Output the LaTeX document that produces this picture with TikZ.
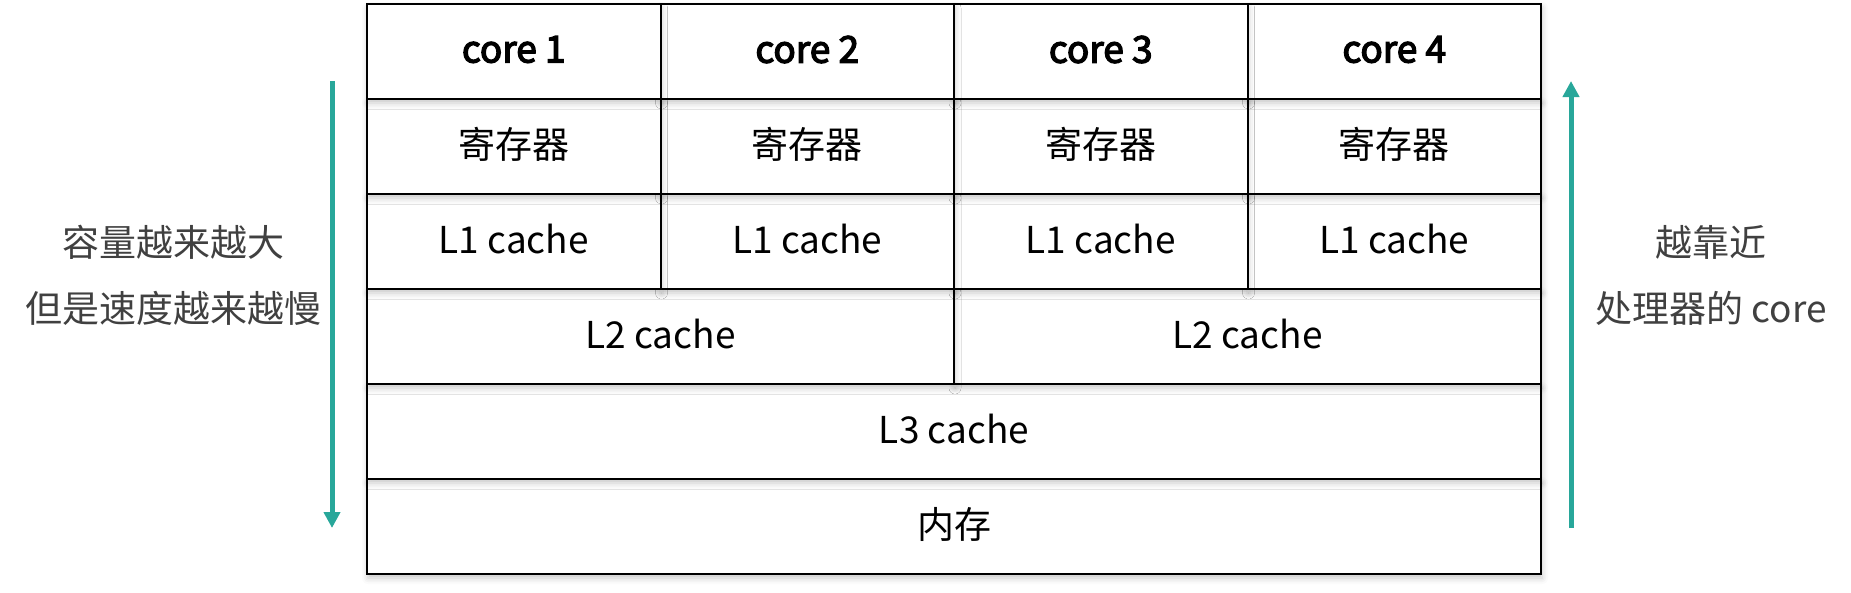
\documentclass[tikz,border=0pt]{standalone}
\usepackage{fontspec}
\setmainfont{Noto Sans CJK SC}
\newfontfamily\corefont[FakeBold=3.5]{Noto Sans CJK SC}
\usetikzlibrary{arrows.meta,shadows.blur}
\definecolor{teal1}{RGB}{40,167,154}
\definecolor{txtgray}{RGB}{64,64,64}
\newcommand{\up}[1]{\raisebox{2pt}[\height][\depth]{#1}}
\tikzset{
  cell/.style={draw=black, fill=white, line width=2pt, minimum height=95pt, inner sep=0pt,
    font=\fontsize{37}{40}\selectfont,
    blur shadow={shadow xshift=1pt, shadow yshift=-4pt, shadow blur radius=6pt, shadow opacity=22}},
  c1/.style={cell, minimum width=293.5pt},
  c2/.style={cell, minimum width=587pt},
  c4/.style={cell, minimum width=1174pt},
  corelbl/.style={font=\fontsize{37}{40}\selectfont\corefont},
  arr/.style={draw=teal1, line width=5pt, -{Triangle[length=16pt,width=16pt]}},
  side/.style={text=txtgray, align=center, font=\fontsize{37}{66}\selectfont}
}
\begin{document}
\begin{tikzpicture}[x=1pt,y=-1pt]
\useasboundingbox (0,0) rectangle (1851,592);
% bottom-up so that shadows fall over the cells below
\node[c4] (mem) at (954,526.5) {\up{内存}};
\node[c4] (l3) at (954,431.5) {\up{L3 cache}};
\node[c2] (l2b) at (1247.5,336.5) {\up{L2 cache}};
\node[c2] (l2a) at (660.5,336.5) {\up{L2 cache}};
\node[c1] (l1d) at (1394.25,241.5) {\up{L1 cache}};
\node[c1] (l1c) at (1100.75,241.5) {\up{L1 cache}};
\node[c1] (l1b) at (807.25,241.5) {\up{L1 cache}};
\node[c1] (l1a) at (513.75,241.5) {\up{L1 cache}};
\node[c1] (rd) at (1394.25,146.5) {\up{寄存器}};
\node[c1] (rc) at (1100.75,146.5) {\up{寄存器}};
\node[c1] (rb) at (807.25,146.5) {\up{寄存器}};
\node[c1] (ra) at (513.75,146.5) {\up{寄存器}};
\node[c1, corelbl] (cd) at (1394.25,51.5) {\up{core 4}};
\node[c1, corelbl] (cc) at (1100.75,51.5) {\up{core 3}};
\node[c1, corelbl] (cb) at (807.25,51.5) {\up{core 2}};
\node[c1, corelbl] (ca) at (513.75,51.5) {\up{core 1}};
% arrows
\coordinate (ltop) at (332,81);
\coordinate (lbot) at (332,528);
\coordinate (rbot) at (1571,528);
\coordinate (rtop) at (1571,81);
\draw[arr] (ltop) -- (lbot);
\draw[arr] (rbot) -- (rtop);
% side labels
\node[side] (lefttxt) at (173,275) {容量越来越大\\但是速度越来越慢};
\node[side] (righttxt) at (1711,275) {越靠近\\处理器的 core};
\end{tikzpicture}
\end{document}
